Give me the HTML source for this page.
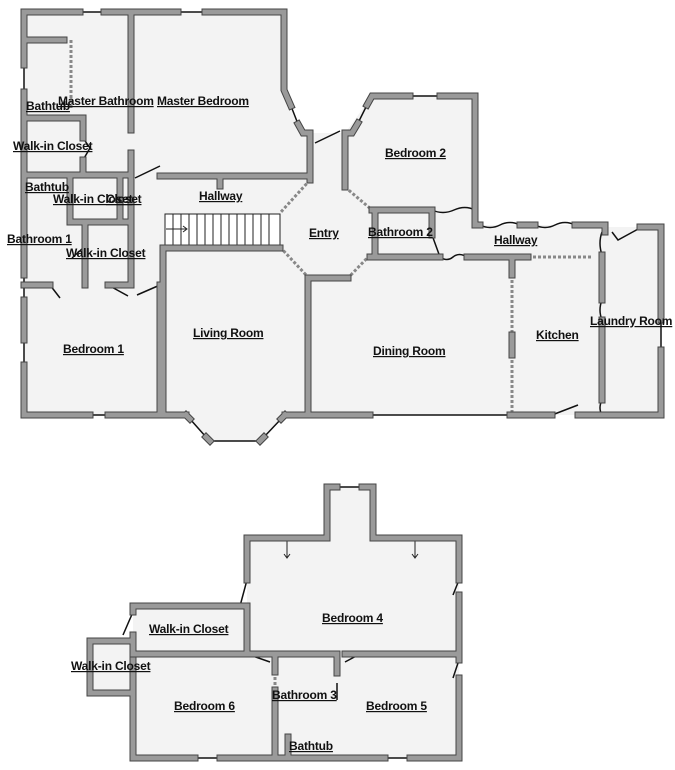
<!DOCTYPE html>
<html><head><meta charset="utf-8"><style>
html,body{margin:0;padding:0;background:#fff;width:675px;height:770px;overflow:hidden}
svg{display:block}
text{font-family:"Liberation Sans",sans-serif;font-weight:bold;font-size:12px;fill:#111;text-decoration:underline;letter-spacing:-0.2px}
</style></head><body>
<svg width="675" height="770" viewBox="0 0 675 770" xmlns="http://www.w3.org/2000/svg">
<defs>
<g id="W" fill="none">
<path d="M24,12H80M104,12H178M205,12H284V90L291,106M298,124L303,133H310V180"/>
<path d="M24,12V65M24,92V275M24,300V340M24,365V415"/>
<path d="M24,40H64"/>
<path d="M131,12V130M131,153V180M131,180V285"/>
<path d="M160,176H310M220,176V186"/>
<path d="M24,118H83V138M83,160V175"/>
<path d="M24,175H131M70,175V222H131M120,175V222"/>
<path d="M85,226V285M24,285H50M108,285H131M160,285V415"/>
<path d="M163,415V248H280"/>
<path d="M24,415H90M108,415H186M285,415H370M510,415H552M578,415H661"/>
<path d="M186,415L190,419M206,437L210,441M260,441L264,437M281,419L285,415"/>
<path d="M308,278V415M308,278H348"/>
<path d="M345,133V187M345,133H352L358,123M367,105L372,96H410M440,96H475V210"/>
<path d="M372,210H432V235M375,210V255M370,257H440M467,257H528"/>
<path d="M475,210V225H480M520,225H535M575,225H605V232"/>
<path d="M640,227H661V320M661,350V415M602,255V300M602,320V400"/>
<path d="M512,257V275M512,335V355"/>
<path d="M247,580V538H327V487H337M362,487H373V538H459V580M459,595V654V660M459,678V758"/>
<path d="M247,606V654M133,606H247M133,606V612M133,635V654M133,654H270M275,654H337M345,654H459"/>
<path d="M275,654V672M275,690V758M337,654V673M288,737V758"/>
<path d="M133,660V758H195M220,758H385M410,758H459"/>
<path d="M133,641H90V693H133"/>
</g>
</defs>
<g fill="#f3f3f3">
<polygon points="24,12 284,12 284,90 303,133 345,133 372,96 475,96 475,225 605,225 605,227 661,227 661,415 285,415 260,441 210,441 186,415 24,415"/>
<polygon points="327,487 373,487 373,538 459,538 459,758 133,758 133,693 90,693 90,641 133,641 133,606 247,606 247,538 327,538"/>
</g>
<g stroke="#222" stroke-width="1" fill="none">
<rect x="165" y="214" width="115" height="31" fill="#fff"/>
<path d="M173,214V245M181,214V245M189,214V245M197,214V245M205,214V245M213,214V245M221,214V245M229,214V245M237,214V245M245,214V245M253,214V245M261,214V245M269,214V245"/>
<path d="M166,229H186M183,226L187,229L183,232"/>
<path d="M287,540V557M284,554L287,558L290,554M415,540V557M412,554L415,558L418,554"/>
</g>
<g stroke="#888" stroke-width="3" fill="none" stroke-dasharray="3 2">
<path d="M310,180L280,213M280,247L307,276M345,187L372,210M370,255L348,278M528,257H591M512,275V335M512,355V415M71,40V110M275,672V690"/>
</g>
<g stroke="#111" stroke-width="1.5" fill="none">
<path d="M80,12H104M178,12H205M410,96H440M337,487H362M195,758H220M385,758H410M370,415H510M90,415H108M210,441H260M24,65V92M24,275V300M24,340V365M661,320V350M291,106L298,124M358,123L367,105M190,419L206,437M264,437L281,419"/>
<path d="M315,143L340,131M135,178L160,166M137,295L160,285M50,285L60,298M108,285L128,296M83,138L90,148L83,160M552,415L578,405M480,225Q490,230 500,225T520,225M535,225Q545,230 555,225T575,225M440,257Q447,262 453,257T467,257M432,235L440,257M612,232L618,240L640,228M602,232Q598,243 602,255M602,300Q598,310 602,320M602,400Q598,408 602,415M432,210Q443,215 454,210T475,210"/>
<path d="M247,580L240,606M133,612L123,635M459,580L453,595M459,660L453,678M247,654L270,662M345,662L360,654M133,641V660M337,683V700M83,248L72,258"/>
</g>
<use href="#W" stroke="#444" stroke-width="7" stroke-linecap="square"/>
<use href="#W" stroke="#9a9a9a" stroke-width="5" stroke-linecap="square"/>
<text x="58" y="105">Master Bathroom</text>
<text x="157" y="105">Master Bedroom</text>
<text x="26" y="110">Bathtub</text>
<text x="13" y="150">Walk-in Closet</text>
<text x="25" y="191">Bathtub</text>
<text x="53" y="203">Walk-in Closet</text>
<text x="106" y="203">Closet</text>
<text x="199" y="200">Hallway</text>
<text x="7" y="243">Bathroom 1</text>
<text x="66" y="257">Walk-in Closet</text>
<text x="309" y="237">Entry</text>
<text x="385" y="157">Bedroom 2</text>
<text x="368" y="236">Bathroom 2</text>
<text x="494" y="244">Hallway</text>
<text x="193" y="337">Living Room</text>
<text x="63" y="353">Bedroom 1</text>
<text x="373" y="355">Dining Room</text>
<text x="536" y="339">Kitchen</text>
<text x="590" y="325">Laundry Room</text>
<text x="322" y="622">Bedroom 4</text>
<text x="149" y="633">Walk-in Closet</text>
<text x="71" y="670">Walk-in Closet</text>
<text x="272" y="699">Bathroom 3</text>
<text x="174" y="710">Bedroom 6</text>
<text x="366" y="710">Bedroom 5</text>
<text x="289" y="750">Bathtub</text>
</svg>
</body></html>
